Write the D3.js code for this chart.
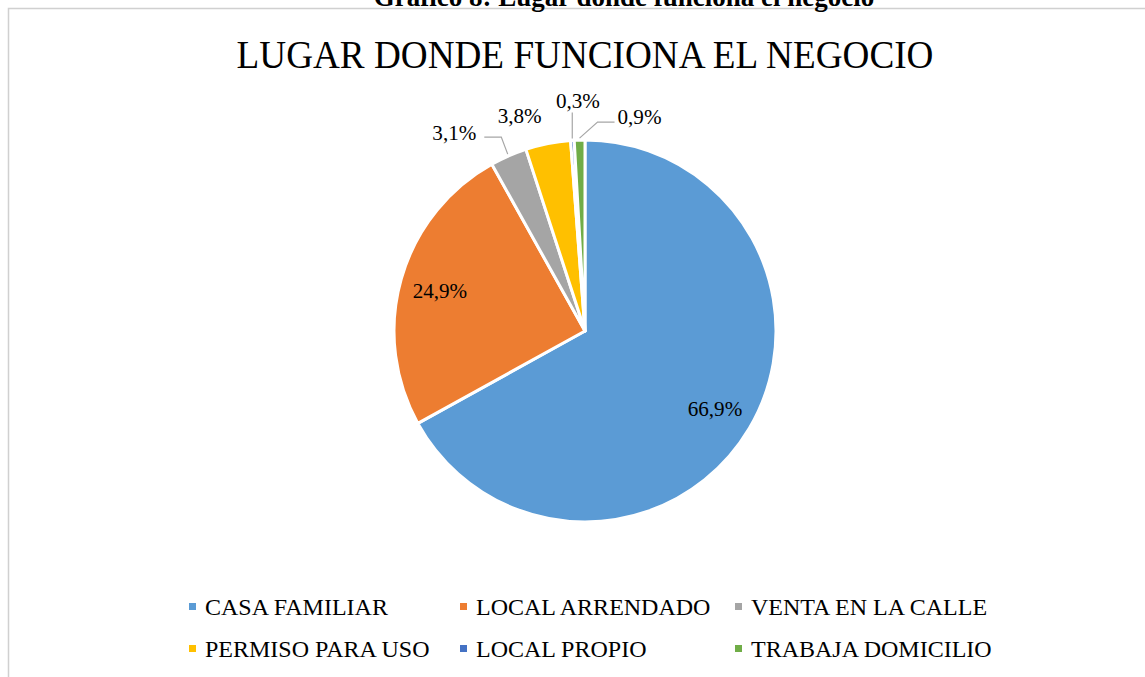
<!DOCTYPE html>
<html>
<head>
<meta charset="utf-8">
<style>
  body { margin: 0; background: #fff; }
  text { font-family: "Liberation Serif", "Times New Roman", serif; }
</style>
</head>
<body>
<svg width="1145" height="677"></svg>
<script src="https://d3js.org/d3.v7.min.js"></script>
<script>
    // data
    var categories = ["CASA FAMILIAR", "LOCAL ARRENDADO", "VENTA EN LA CALLE",
                      "PERMISO PARA USO", "LOCAL PROPIO", "TRABAJA DOMICILIO"];
    var values = [66.9, 24.9, 3.1, 3.8, 0.3, 0.9];
    var chartTitle = "LUGAR DONDE FUNCIONA EL NEGOCIO";
    var captionText = "Gráfico 8: Lugar donde funciona el negocio";

    var palette = ["#5B9BD5", "#ED7D31", "#A5A5A5", "#FFC000", "#4472C4", "#70AD47"];

    // where each data label goes: inside the slice, or outside with a nudge (px)
    var labelPlace = [
        { inside: true },
        { inside: true },
        { dx: -39, dy: 19, leader: true },
        { dx: -21, dy: 17, leader: false },
        { dx: 8, dy: 6, leader: true },
        { dx: 61, dy: 22, leader: true }
    ];

    var svg = d3.select("svg"),
        cx = 585, cy = 331, radius = 191;

    // chart frame (only left and top edges show)
    svg.append("rect")
        .attr("x", 8.5).attr("y", 8.5)
        .attr("width", 1200).attr("height", 700)
        .attr("fill", "#fff")
        .attr("stroke", "#d0d0d0")
        .attr("stroke-width", 1.5);

    // caption above the frame, cut off by the page top (as in the source)
    svg.append("text")
        .attr("x", 624).attr("y", 6)
        .attr("text-anchor", "middle")
        .style("font-size", "27px")
        .style("font-weight", "bold")
        .text(captionText);

    function squeezed(parent, x, y, sx) {
        return parent.append("g")
            .attr("transform", "translate(" + x + "," + y + ") scale(" + sx + ",1)")
            .append("text");
    }

    squeezed(svg, cx, 68, 0.93)
        .attr("text-anchor", "middle")
        .style("font-size", "40px")
        .attr("fill", "#000")
        .text(chartTitle);

    var data = categories.map(function (c, i) {
        return { name: c, value: values[i], color: palette[i], place: labelPlace[i] };
    });

    var pie = d3.pie().sort(null).value(function (d) { return d.value; });
    var arcs = pie(data);

    var arc = d3.arc().innerRadius(0).outerRadius(radius);

    var g = svg.append("g").attr("transform", "translate(" + cx + "," + cy + ")");

    g.selectAll(".slice")
        .data(arcs)
        .enter().append("path")
        .attr("class", "slice")
        .attr("d", arc)
        .attr("fill", function (d) { return d.data.color; })
        .attr("stroke", "#fff")
        .attr("stroke-width", 3)
        .attr("stroke-linejoin", "round");

    function fmt(v) { return v.toFixed(1).replace(".", ",") + "%"; }

    function pointAt(a, r) {
        var m = (a.startAngle + a.endAngle) / 2;
        return [r * Math.sin(m), -r * Math.cos(m)];
    }

    var labelSx = 0.96;

    arcs.forEach(function (a) {
        var p = a.data.place, x, y;
        if (p.inside) {
            var c = pointAt(a, radius * 0.79);
            x = c[0]; y = c[1] + 8;
        } else {
            var o = pointAt(a, radius + 38);
            x = o[0] + p.dx; y = o[1] + p.dy;
        }
        var t = squeezed(g, x, y, labelSx)
            .attr("text-anchor", "middle")
            .style("font-size", "22px")
            .attr("fill", "#000")
            .text(fmt(a.data.value));

        if (p.leader) {
            var w = t.node().getComputedTextLength() * labelSx;
            var s = pointAt(a, radius + 2), pts;
            if (Math.abs(x - s[0]) < 10) {
                pts = [[s[0], y + 4], s];
            } else if (x < s[0]) {
                pts = [[x + w / 2 + 8, y - 3], [x + w / 2 + 25, y - 3], s];
            } else {
                pts = [[x - w / 2 - 3, y - 2], [x - w / 2 - 20, y - 2], s];
            }
            g.append("path")
                .attr("d", d3.line()(pts))
                .attr("fill", "none")
                .attr("stroke", "#a6a6a6")
                .attr("stroke-width", 1.2);
        }
    });

    // legend, three per row
    var legendCols = [189, 460, 735],
        legendRows = [607, 649];

    var item = svg.selectAll(".legend")
        .data(data)
        .enter().append("g")
        .attr("class", "legend")
        .attr("transform", function (d, i) {
            return "translate(" + legendCols[i % 3] + "," + legendRows[Math.floor(i / 3)] + ")";
        });

    item.append("rect")
        .attr("x", 0).attr("y", -4)
        .attr("width", 7).attr("height", 7)
        .attr("fill", function (d) { return d.color; });

    item.append("text")
        .attr("x", 16).attr("y", 8)
        .style("font-size", "24px")
        .attr("fill", "#000")
        .text(function (d) { return d.name; });
</script>
</body>
</html>
